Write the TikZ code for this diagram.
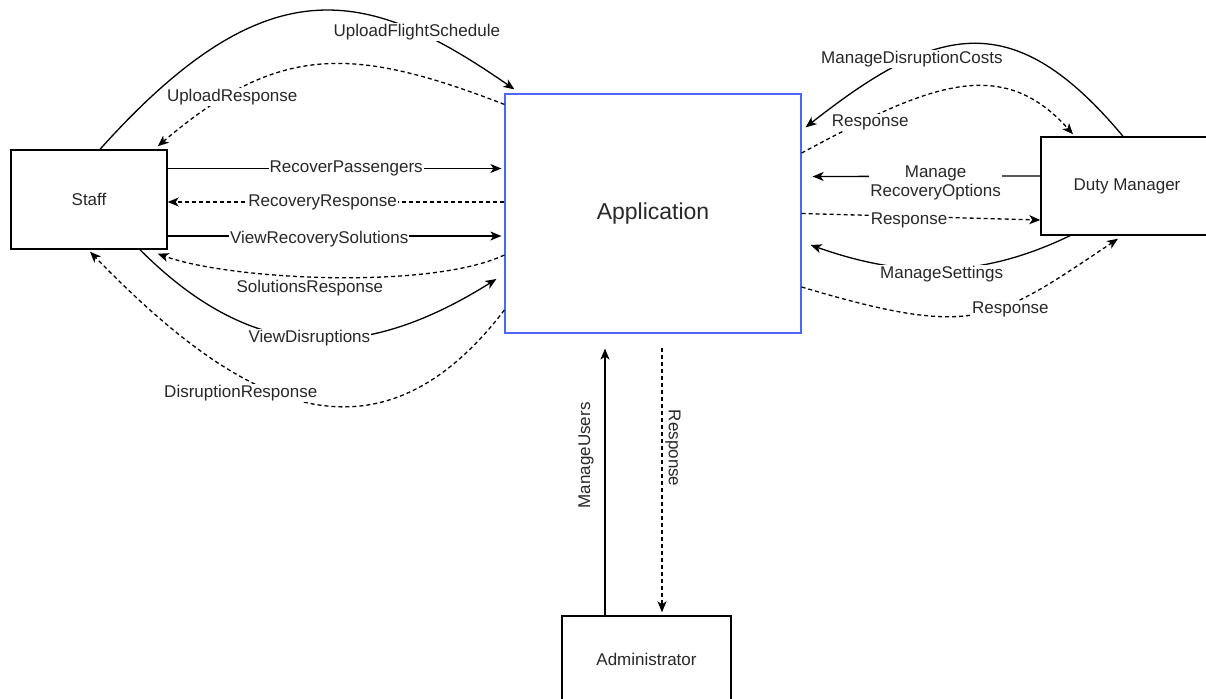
\documentclass[tikz,border=0pt]{standalone}
\usepackage{fontspec}
\setmainfont{Liberation Sans}
\usetikzlibrary{arrows.meta}
\definecolor{appblue}{RGB}{80,100,250}
\definecolor{ink}{RGB}{40,40,40}

\begin{document}
\begin{tikzpicture}[x=1pt,y=-1pt,
  entity/.style={draw=black, line width=1.4pt, fill=white, inner sep=0pt,
    font=\fontsize{17}{20}\selectfont, text=ink},
  flow/.style={line width=1.3pt, -{Stealth[length=11pt,width=9pt,inset=3pt]}},
  reply/.style={flow, dash pattern=on 4pt off 3pt},
  lbl/.style={fill=white, inner sep=1pt, font=\fontsize{17}{19}\selectfont, text=ink},
]
\useasboundingbox (0,0) rectangle (1206,698);
\fill[white] (0,0) rectangle (1206,698);

% external entities and the system process
\node[entity, minimum width=156pt, minimum height=99pt] (staff) at (89,199.5) {Staff};
\node[entity, draw=appblue, line width=1.2pt, minimum width=296pt, minimum height=239pt,
      font=\fontsize{23}{26}\selectfont] (app) at (653,213.5) {Application};
\node[entity, minimum width=172pt, minimum height=98pt] (dm) at (1127,186) {Duty Manager};
\node[entity, minimum width=169pt, minimum height=86pt] (admin) at (646.5,659) {Administrator};

% Staff <-> Application
\draw[flow] ([xshift=11pt]staff.north) .. controls (267,-37) and (367,-13) ..
  ([xshift=10pt,yshift=4pt]app.north west) node[lbl,pos=0.765] {UploadFlightSchedule};
\draw[reply] ([yshift=-11pt]app.north west) .. controls (353,46) and (279,43) ..
  ([xshift=-10pt,yshift=3pt]staff.north east) node[lbl,pos=0.78,yshift=-4pt] {UploadResponse};
\draw[flow, shorten >=3pt] ([yshift=31pt]staff.east) -- ([yshift=45pt]app.west)
  node[lbl,pos=0.53] {RecoverPassengers};
\draw[reply] ([yshift=11.5pt]app.west) -- ([yshift=-2.5pt]staff.east)
  node[lbl,pos=0.54] {RecoveryResponse};
\draw[flow, shorten >=3pt] ([yshift=-36.5pt]staff.east) -- ([yshift=-22.5pt]app.west)
  node[lbl,pos=0.45,yshift=-3pt] {ViewRecoverySolutions};
\draw[reply] ([yshift=-41.5pt]app.west) .. controls (430,290) and (230,280) ..
  ([xshift=-10pt,yshift=-4pt]staff.south east) node[lbl,pos=0.55,yshift=-11pt] {SolutionsResponse};
\draw[flow] ([xshift=51pt]staff.south) .. controls (252,362) and (361,364) ..
  ([xshift=-8pt,yshift=-65.5pt]app.west) node[lbl,pos=0.5] {ViewDisruptions};
\draw[reply] ([yshift=-96.5pt]app.west) .. controls (370,486) and (228,394) ..
  ([xshift=1pt,yshift=-2pt]staff.south) node[lbl,pos=0.6,xshift=-16pt,yshift=-9pt] {DisruptionResponse};

% Duty Manager <-> Application
\draw[flow] ([xshift=-4pt]dm.north) .. controls (1014,6) and (938,23) ..
  ([xshift=4pt,yshift=-34pt]app.north east) node[lbl,pos=0.7] {ManageDisruptionCosts};
\draw[reply] ([yshift=60.5pt]app.east) .. controls (925,87) and (1000,52.5) ..
  ([xshift=-54pt,yshift=2pt]dm.north) node[lbl,pos=0.2,yshift=-5pt] {Response};
\draw[flow] ([yshift=10pt]dm.west) -- ([xshift=11pt,yshift=37pt]app.east)
  node[lbl,pos=0.46,yshift=-7pt,align=center] {Manage\\RecoveryOptions};
\draw[reply] (app.east) -- ([yshift=-34pt]dm.west)
  node[lbl,pos=0.45,yshift=-4pt] {Response};
\draw[flow] ([xshift=-57pt]dm.south) .. controls (980,279) and (904,278) ..
  ([xshift=9pt,yshift=-31.5pt]app.east) node[lbl,pos=0.5,yshift=-5pt] {ManageSettings};
\draw[reply] ([yshift=-73.5pt]app.east) .. controls (976,339) and (993.5,322) ..
  ([xshift=-9pt,yshift=-3pt]dm.south) node[lbl,pos=0.63,yshift=-6pt] {Response};

% Administrator <-> Application
\draw[flow] ([xshift=-41.5pt]admin.north) -- ([xshift=-48pt,yshift=-15pt]app.south)
  node[lbl,pos=0.6,xshift=-19pt,rotate=90] {ManageUsers};
\draw[reply] ([xshift=9pt,yshift=-14pt]app.south) -- ([xshift=15.5pt,yshift=3pt]admin.north)
  node[lbl,pos=0.38,xshift=11pt,rotate=-90] {Response};
\end{tikzpicture}
\end{document}
